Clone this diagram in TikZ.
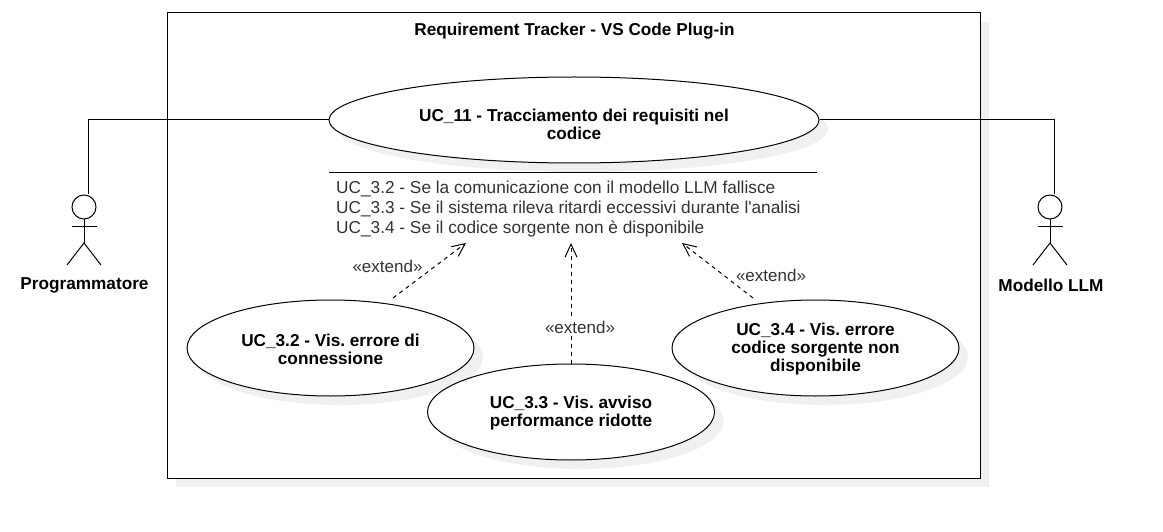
\documentclass[tikz,border=0pt]{standalone}
\usepackage{fontspec}
\setmainfont{Liberation Sans}
\newfontfamily\listfont{Liberation Sans}
\usetikzlibrary{shapes.geometric,arrows.meta,shadows}
\definecolor{shadowgray}{HTML}{F0F0F0}
\definecolor{labelgray}{HTML}{333333}
\newcommand{\casedrop}[1]{\rule{0pt}{\dimexpr12pt+2\dimexpr#1\relax\relax}}
\tikzset{
  softshadow/.style={general shadow={shadow xshift=9pt,shadow yshift=-9pt,fill=shadowgray,draw=none}},
  usecase/.style={ellipse,draw=black,line width=1pt,fill=white,softshadow,inner sep=0pt,align=center,font=\fontsize{17.2}{18}\selectfont\bfseries\frenchspacing,text=black},
  actorname/.style={font=\fontsize{17.2}{18}\selectfont\bfseries\frenchspacing,text=black,inner sep=0pt},
  sysbox/.style={draw=black,line width=1pt,fill=white,softshadow,inner sep=0pt},
  assoc/.style={draw=black,line width=1pt},
  figure/.style={draw=black,line width=1pt},
  extendarrow/.style={draw=black,line width=1pt,dash pattern=on 4pt off 4pt,-{Straight Barb[length=13pt,width=12pt,line width=1pt]}},
  stereotype/.style={font=\fontsize{17}{18}\selectfont,text=labelgray,inner sep=0pt},
  extlist/.style={font=\listfont\fontsize{17.25}{20}\selectfont\frenchspacing,text=labelgray,inner sep=0pt,align=left,anchor=north west}
}
\begin{document}
\begin{tikzpicture}[x=1pt,y=-1pt]
\useasboundingbox (0,0) rectangle (1163,532);
\node[sysbox,minimum width=813pt,minimum height=465pt] (system) at (573.5,245.5) {};
\node[actorname] (systitle) at (574.5,31) {Requirement Tracker - VS Code Plug-in};

\node[usecase,minimum width=490pt,minimum height=86pt] (uc11) at (574,120) {\casedrop{4.5pt}UC\_11 - Tracciamento dei requisiti nel\\codice};
\node[usecase,minimum width=287pt,minimum height=96pt] (uc32) at (330.5,348) {\casedrop{1.5pt}UC\_3.2 - Vis. errore di\\connessione};
\node[usecase,minimum width=287pt,minimum height=96pt] (uc34) at (815.5,348) {\casedrop{1.5pt}UC\_3.4 - Vis. errore\\codice sorgente non\\disponibile};
\node[usecase,minimum width=287pt,minimum height=96pt] (uc33) at (571,412) {\casedrop{1.5pt}UC\_3.3 - Vis. avviso\\performance ridotte};

% extension points list
\coordinate (sepL) at (329,172.5);
\coordinate (sepR) at (817,172.5);
\draw[assoc] (sepL) -- (sepR);
\node[extlist] (extpoints) at (336,180.5) {UC\_3.2 - Se la comunicazione con il modello LLM fallisce\\UC\_3.3 - Se il sistema rileva ritardi eccessivi durante l'analisi\\UC\_3.4 - Se il codice sorgente non è disponibile};

% actors
\coordinate (prog) at (84,207);
\draw[figure] (prog) circle (12);
\coordinate (progneck) at (84,219);
\coordinate (proghip) at (84,243);
\draw[figure] (progneck) -- (proghip);
\draw[figure] (72,227) -- (96.5,227);
\draw[figure] (67,265) -- (proghip) -- (101,265);
\node[actorname] (progname) at (84.5,285.5) {Programmatore};
\coordinate (progtop) at (88,194);

\coordinate (llm) at (1050,207);
\draw[figure] (llm) circle (12);
\coordinate (llmneck) at (1050,219);
\coordinate (llmhip) at (1050,243);
\draw[figure] (llmneck) -- (llmhip);
\draw[figure] (1038,227) -- (1062.5,227);
\draw[figure] (1033,265) -- (llmhip) -- (1067,265);
\node[actorname] (llmname) at (1051,285.5) {Modello LLM};
\coordinate (llmtop) at (1054,194);

% associations
\draw[assoc] (progtop) |- (uc11.west);
\draw[assoc] (llmtop) |- (uc11.east);

% extend arrows
\coordinate (s32) at (393,298);
\coordinate (t32) at (466,243);
\coordinate (t33) at (571,243);
\coordinate (s34) at (753,298);
\coordinate (t34) at (682,243);
\draw[extendarrow] (s32) -- (t32);
\draw[extendarrow] (uc33.north) -- (t33);
\draw[extendarrow] (s34) -- (t34);
\node[stereotype] (l32) at (387.5,266) {«extend»};
\node[stereotype,fill=white,inner ysep=2pt] (l33) at (580,327) {«extend»};
\node[stereotype] (l34) at (771,275) {«extend»};
\end{tikzpicture}
\end{document}
